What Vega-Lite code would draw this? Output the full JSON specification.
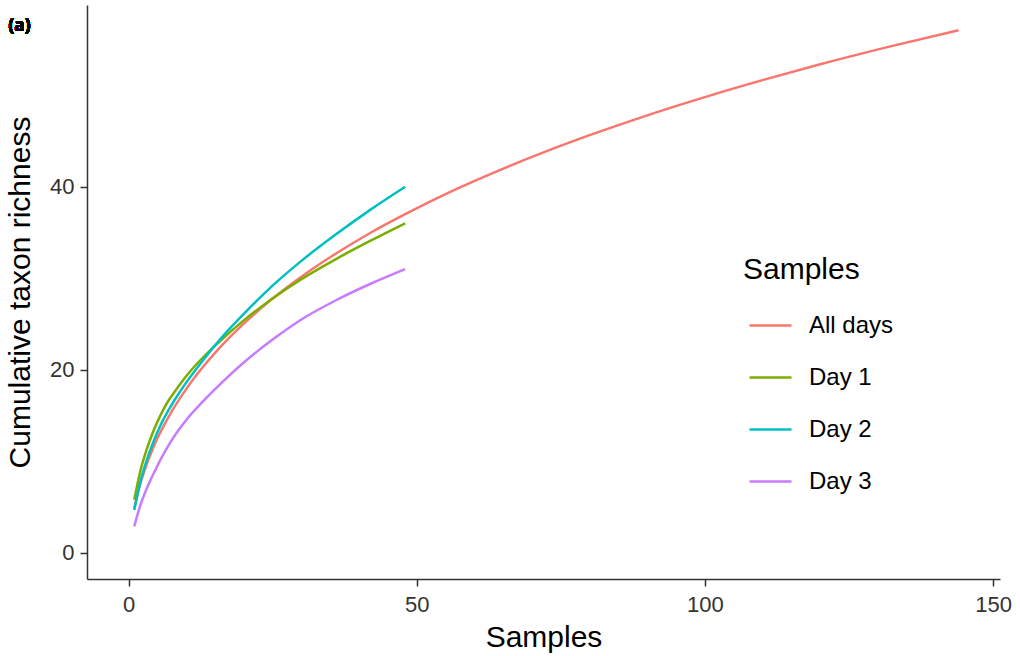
{
  "$schema": "https://vega.github.io/schema/vega-lite/v6.json",
  "width": 913,
  "height": 574,
  "autosize": {"type": "none"},
  "padding": {"left": 87, "top": 5, "right": 20, "bottom": 77},
  "background": "white",
  "config": {
    "view": {"stroke": null},
    "font": "Liberation Sans"
  },
  "data": {"values": [
    {"n": 1, "S": 4.9, "g": "All days"},
    {"n": 2, "S": 7.44, "g": "All days"},
    {"n": 3, "S": 9.4, "g": "All days"},
    {"n": 4, "S": 11.04, "g": "All days"},
    {"n": 5, "S": 12.5, "g": "All days"},
    {"n": 6, "S": 13.74, "g": "All days"},
    {"n": 7, "S": 14.9, "g": "All days"},
    {"n": 8, "S": 15.97, "g": "All days"},
    {"n": 10, "S": 17.89, "g": "All days"},
    {"n": 13, "S": 20.38, "g": "All days"},
    {"n": 16, "S": 22.54, "g": "All days"},
    {"n": 20, "S": 25.05, "g": "All days"},
    {"n": 25, "S": 27.78, "g": "All days"},
    {"n": 30, "S": 30.17, "g": "All days"},
    {"n": 36, "S": 32.7, "g": "All days"},
    {"n": 42, "S": 34.97, "g": "All days"},
    {"n": 48, "S": 37.0, "g": "All days"},
    {"n": 56, "S": 39.49, "g": "All days"},
    {"n": 64, "S": 41.71, "g": "All days"},
    {"n": 72, "S": 43.75, "g": "All days"},
    {"n": 80, "S": 45.63, "g": "All days"},
    {"n": 90, "S": 47.8, "g": "All days"},
    {"n": 100, "S": 49.79, "g": "All days"},
    {"n": 110, "S": 51.64, "g": "All days"},
    {"n": 120, "S": 53.37, "g": "All days"},
    {"n": 132, "S": 55.3, "g": "All days"},
    {"n": 144, "S": 57.1, "g": "All days"},
    {"n": 1, "S": 5.8, "g": "Day 1"},
    {"n": 2, "S": 8.8, "g": "Day 1"},
    {"n": 3, "S": 11.0, "g": "Day 1"},
    {"n": 4, "S": 12.8, "g": "Day 1"},
    {"n": 5, "S": 14.3, "g": "Day 1"},
    {"n": 6, "S": 15.6, "g": "Day 1"},
    {"n": 7, "S": 16.7, "g": "Day 1"},
    {"n": 8, "S": 17.6, "g": "Day 1"},
    {"n": 10, "S": 19.3, "g": "Day 1"},
    {"n": 13, "S": 21.4, "g": "Day 1"},
    {"n": 16, "S": 23.2, "g": "Day 1"},
    {"n": 20, "S": 25.4, "g": "Day 1"},
    {"n": 25, "S": 27.8, "g": "Day 1"},
    {"n": 30, "S": 29.9, "g": "Day 1"},
    {"n": 36, "S": 32.1, "g": "Day 1"},
    {"n": 42, "S": 34.1, "g": "Day 1"},
    {"n": 48, "S": 36.0, "g": "Day 1"},
    {"n": 1, "S": 4.7, "g": "Day 2"},
    {"n": 2, "S": 7.6, "g": "Day 2"},
    {"n": 3, "S": 9.8, "g": "Day 2"},
    {"n": 4, "S": 11.6, "g": "Day 2"},
    {"n": 5, "S": 13.15, "g": "Day 2"},
    {"n": 6, "S": 14.5, "g": "Day 2"},
    {"n": 7, "S": 15.65, "g": "Day 2"},
    {"n": 8, "S": 16.7, "g": "Day 2"},
    {"n": 10, "S": 18.6, "g": "Day 2"},
    {"n": 13, "S": 21.1, "g": "Day 2"},
    {"n": 16, "S": 23.4, "g": "Day 2"},
    {"n": 20, "S": 26.1, "g": "Day 2"},
    {"n": 25, "S": 29.2, "g": "Day 2"},
    {"n": 30, "S": 31.9, "g": "Day 2"},
    {"n": 36, "S": 34.8, "g": "Day 2"},
    {"n": 42, "S": 37.5, "g": "Day 2"},
    {"n": 48, "S": 40.0, "g": "Day 2"},
    {"n": 1, "S": 2.9, "g": "Day 3"},
    {"n": 2, "S": 5.1, "g": "Day 3"},
    {"n": 3, "S": 6.8, "g": "Day 3"},
    {"n": 4, "S": 8.2, "g": "Day 3"},
    {"n": 5, "S": 9.5, "g": "Day 3"},
    {"n": 6, "S": 10.7, "g": "Day 3"},
    {"n": 7, "S": 11.8, "g": "Day 3"},
    {"n": 8, "S": 12.8, "g": "Day 3"},
    {"n": 10, "S": 14.5, "g": "Day 3"},
    {"n": 13, "S": 16.6, "g": "Day 3"},
    {"n": 16, "S": 18.5, "g": "Day 3"},
    {"n": 20, "S": 20.8, "g": "Day 3"},
    {"n": 25, "S": 23.3, "g": "Day 3"},
    {"n": 30, "S": 25.5, "g": "Day 3"},
    {"n": 36, "S": 27.6, "g": "Day 3"},
    {"n": 42, "S": 29.4, "g": "Day 3"},
    {"n": 48, "S": 31.0, "g": "Day 3"}
  ]},
  "layer": [
    {
      "mark": {"type": "line", "interpolate": "monotone", "strokeWidth": 2.5, "clip": true},
      "encoding": {
        "x": {
          "field": "n", "type": "quantitative", "title": "Samples",
          "scale": {"domain": [-7.2, 151.2], "nice": false, "zero": false},
          "axis": {"values": [0, 50, 100, 150], "grid": false, "domainColor": "#333333", "domainWidth": 1.5, "tickColor": "#333333", "tickWidth": 1.5, "tickSize": 7, "labelFontSize": 22, "labelColor": "#333333", "labelPadding": 8, "titleFontSize": 30, "titleFontWeight": "normal", "titleColor": "black", "titlePadding": 7}
        },
        "y": {
          "field": "S", "type": "quantitative", "title": "Cumulative taxon richness",
          "scale": {"domain": [-2.85, 59.85], "nice": false, "zero": false},
          "axis": {"values": [0, 20, 40], "grid": false, "domainColor": "#333333", "domainWidth": 1.5, "tickColor": "#333333", "tickWidth": 1.5, "tickSize": 7, "labelFontSize": 22, "labelColor": "#333333", "labelPadding": 6, "titleFontSize": 30, "titleFontWeight": "normal", "titleColor": "black", "titlePadding": 14}
        },
        "color": {
          "field": "g", "type": "nominal", "title": "Samples",
          "scale": {"domain": ["All days", "Day 1", "Day 2", "Day 3"], "range": ["#F8766D", "#7CAE00", "#00BFC4", "#C77CFF"]},
          "legend": {"orient": "none", "legendX": 656, "legendY": 250, "symbolType": "stroke", "symbolSize": 1764, "symbolStrokeWidth": 2.5, "symbolOffset": 5, "labelFontSize": 24, "labelColor": "black", "labelOffset": 16, "titleFontSize": 30, "titleFontWeight": "normal", "titleColor": "black", "titlePadding": 18, "rowPadding": 17}
        }
      }
    },
    {
      "mark": {"type": "text", "text": "(a)", "align": "left", "baseline": "alphabetic", "font": "Open Sans", "fontSize": 17, "fontWeight": "bold", "color": "black", "clip": false},
      "encoding": {
        "x": {"datum": -20.8, "type": "quantitative"},
        "y": {"datum": 57.0, "type": "quantitative"}
      }
    }
  ]
}
